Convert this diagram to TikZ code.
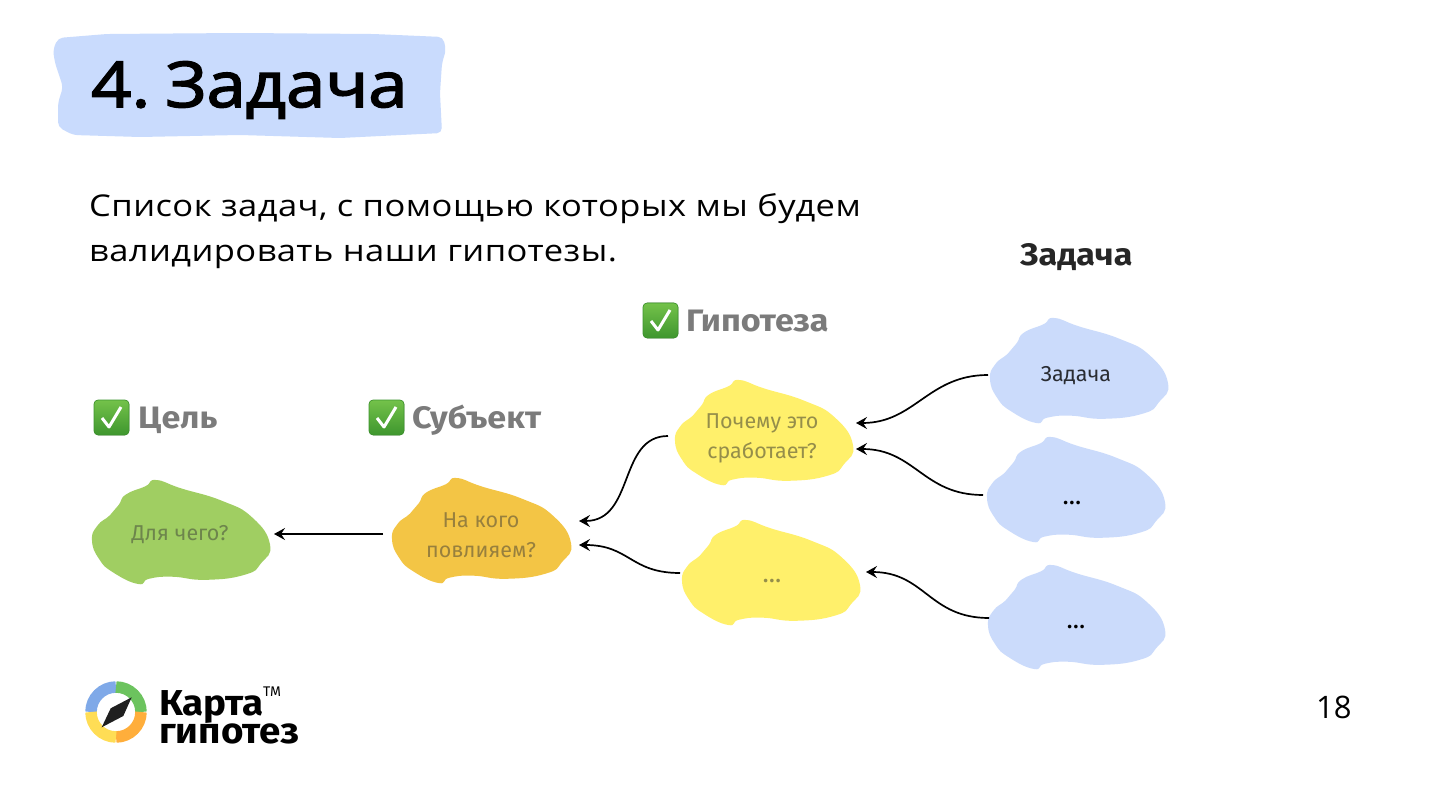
\documentclass[tikz,border=0pt]{standalone}
\usepackage{fontspec}
\usetikzlibrary{arrows.meta}
\setmainfont{Open Sans}
\newfontfamily\titlefont[FakeStretch=1.12,FakeBold=2.5,WordSpace=0.5]{Open Sans}
\newfontfamily\subfont[FakeStretch=1.15,LetterSpace=1.5]{Open Sans}
\newfontfamily\pgfont{Open Sans}
\newfontfamily\plex{Fira Sans}
\newfontfamily\plexhead[FakeStretch=1.1]{Fira Sans}
\newfontfamily\plexlogo[FakeStretch=1.07]{Fira Sans}
\definecolor{bluefill}{HTML}{CBDBFB}
\definecolor{titlefill}{HTML}{C9DBFD}
\definecolor{yellowfill}{HTML}{FFF06B}
\definecolor{orangefill}{HTML}{F3C545}
\definecolor{greenfill}{HTML}{A0CE62}
\definecolor{labelgray}{HTML}{7B7B7B}
\definecolor{checktop}{HTML}{74C24A}
\definecolor{checkbot}{HTML}{3E962E}
\definecolor{logoY}{HTML}{FFDD55}
\definecolor{logoO}{HTML}{FFAE3B}
\definecolor{logoG}{HTML}{6CC35E}
\definecolor{logoB}{HTML}{7FA9E8}
\newcommand\mkblob[6]{%
  \begin{scope}[shift={(#2,#3)},xscale=#4-#2,yscale=#5-#3]
    \fill[#6] plot[smooth cycle,tension=.85] coordinates {
      (.30,.06)(.36,0)(.50,.08)(.73,.20)(.90,.36)(1,.62)(.95,.80)(.86,.91)(.64,.96)(.45,.93)
      (.32,.95)(.26,1)(.12,.89)(.04,.76)(0,.58)(.03,.44)(.10,.34)(.15,.24)(.19,.14)};
  \end{scope}
  \node[blobnode,minimum width=#4pt-#2pt,minimum height=#5pt-#3pt] (#1) at ({(#2+#4)/2},{(#3+#5)/2}) {};
}
\newcommand\mkcheck[2]{%
  \fill[rounded corners=4pt,top color=checktop,bottom color=checkbot,draw=checkbot,line width=.6pt] (#1,#2) rectangle ++(35,35);
  \draw[white,line width=3pt,line join=round] (#1+8,#2+18) -- (#1+15,#2+27) -- (#1+27,#2+7);
}
\tikzset{
  blobnode/.style={inner sep=0pt,outer sep=0pt},
  link/.style={line width=1.7pt,black,-{Stealth[length=11pt,width=12pt,inset=4pt]}},
  blobtext/.style={font=\plex\fontsize{21.5}{30}\selectfont,align=center,inner sep=0pt},
  dots/.style={font=\plex\fontsize{26}{30}\selectfont,inner sep=0pt},
  head/.style={font=\plexhead\bfseries\fontsize{31}{36}\selectfont,text=labelgray,anchor=base west,inner sep=0pt},
  logotext/.style={anchor=base west,inner sep=0pt,font=\plexlogo\bfseries\fontsize{36}{36}\selectfont,text depth=0pt,text height=20pt},
}
\begin{document}
\begin{tikzpicture}[x=1pt,y=-1pt]
\useasboundingbox (0,0) rectangle (1440,810);
\fill[white] (0,0) rectangle (1440,810);
% title
\fill[titlefill,rounded corners=5pt] (58,38) -- (107,34) -- (240,33) -- (373,34) -- (443,37) -- (446,50) -- (442,63) -- (440,93) -- (442,133) -- (340,138) -- (240,135) -- (140,137) -- (73,135) -- (58,127) -- (58,103) -- (63,87) -- (55,63) -- (53,50) -- cycle;
\node[anchor=base west,inner sep=0pt,font=\titlefont\fontsize{63}{70}\selectfont] (title) at (91,107) {4. Задача};
\node[anchor=base west,inner sep=0pt,font=\subfont\fontsize{30}{36}\selectfont] (sub1) at (89,217) {Список задач, с помощью которых мы будем};
\node[anchor=base west,inner sep=0pt,font=\subfont\fontsize{30}{36}\selectfont] (sub2) at (89,262) {валидировать наши гипотезы.};
% headings
\node[head,text=black!85] (hz) at (1020,266) {Задача};
\mkcheck{643}{303}
\node[head] (hh) at (686,331) {Гипотеза};
\mkcheck{94}{400}
\node[head] (hc) at (138,428) {Цель};
\mkcheck{369}{400}
\node[head] (hs) at (412,428) {Субъект};
% blobs
\mkblob{t1}{990}{318}{1168}{423}{bluefill}
\mkblob{t2}{987}{437}{1165}{542}{bluefill}
\mkblob{t3}{988}{565}{1165}{669}{bluefill}
\mkblob{y1}{675}{380}{853}{485}{yellowfill}
\mkblob{y2}{682}{520}{860}{625}{yellowfill}
\mkblob{s}{392}{478}{571}{583}{orangefill}
\mkblob{g}{92}{480}{270}{584}{greenfill}
% blob texts
\node[blobtext,text=black!80!bluefill] (t1t) at (1076,376) {Задача};
\node[dots,text=black] (t2t) at (1072,503) {...};
\node[dots,text=black] (t3t) at (1076,627) {...};
\node[blobtext,text=black!40!yellowfill!85!gray] (y1t) at (762,438) {Почему это\\сработает?};
\node[dots,text=black!40!yellowfill!85!gray] (y2t) at (772,581) {...};
\node[blobtext,text=black!35!orangefill!80!gray] (st) at (481,535) {На кого\\повлияем?};
\node[blobtext,text=black!35!greenfill!80!gray] (gt) at (180,535) {Для чего?};
% connectors
\draw[link] ([shift={(-2,4.5)}]t1.west) .. controls +(-60,0) and (915,423) .. ([shift={(3,-9.5)}]y1.east);
\draw[link] ([shift={(-4,5.5)}]t2.west) .. controls +(-60,0) and (915,449) .. ([shift={(3,16.5)}]y1.east);
\draw[link] ([shift={(1,1)}]t3.west) .. controls +(-60,0) and (925,572) .. ([shift={(6,-0.5)}]y2.east);
\draw[link] ([shift={(-7,3.5)}]y1.west) .. controls +(-50,0) and (635,521) .. ([shift={(8,-9.5)}]s.east);
\draw[link] ([shift={(-2,0.5)}]y2.west) .. controls +(-50,0) and (630,545) .. ([shift={(8,14.5)}]s.east);
\draw[link] ([shift={(-9,3.5)}]s.west) -- ([shift={(4,2)}]g.east);
% logo
\coordinate (lc) at (116,712);
\draw[logoB,line width=11.5pt] (lc) ++(180:25) arc[start angle=180,end angle=270,radius=25];
\draw[logoG,line width=11.5pt] (lc) ++(270:25) arc[start angle=270,end angle=360,radius=25];
\draw[logoO,line width=11.5pt] (lc) ++(0:25) arc[start angle=0,end angle=90,radius=25];
\draw[logoY,line width=11.5pt] (lc) ++(90:25) arc[start angle=90,end angle=180,radius=25];
\fill[black!88] (101.7,727.3) -- (110.7,708.3) -- (131.7,697.3) -- (123.3,716) -- cycle;
\node[logotext] (l1) at (159,715) {Карта};
\node[logotext] (l2) at (159,743) {гипотез};
\node[anchor=base west,inner sep=0pt,font=\plex\fontsize{14}{14}\selectfont] (tm) at (263,696) {TM};
\node[anchor=base west,inner sep=0pt,font=\pgfont\fontsize{31}{36}\selectfont] (pg) at (1316,718) {18};
\end{tikzpicture}
\end{document}
